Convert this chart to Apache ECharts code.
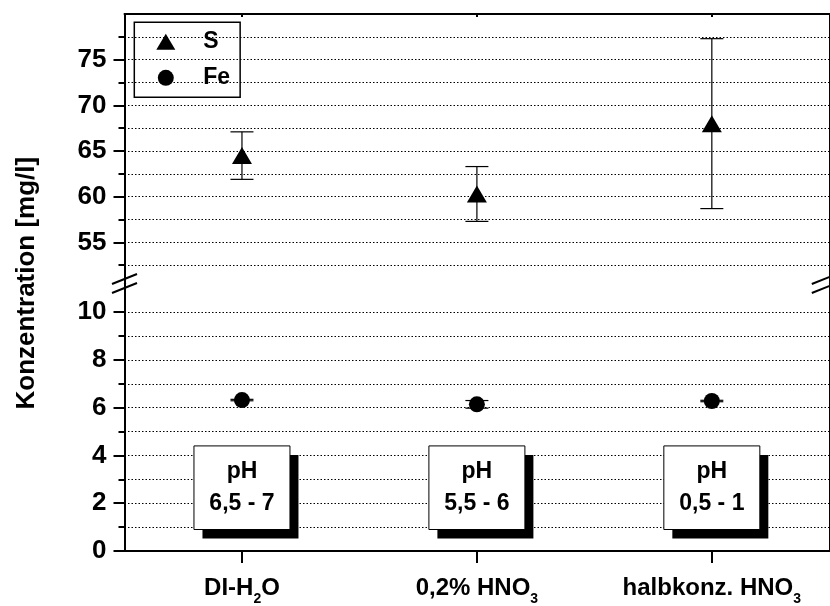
<!DOCTYPE html>
<html>
<head>
<meta charset="utf-8">
<script src="https://cdn.jsdelivr.net/npm/echarts@6/dist/echarts.min.js"></script>
<style>
  html, body { margin: 0; padding: 0; background: #fff; }
  #chart { width: 830px; height: 606px; }
</style>
</head>
<body>
<div id="chart"></div>
<script>
// Leaching media on the x axis
const categories = ['DI-H2O', '0,2% HNO3', 'halbkonz. HNO3'];
// Sulfur concentration (mean and standard deviation), mg/l
const sulfurMean = [64.5, 60.3, 68.0];
const sulfurErr = [2.6, 3.0, 9.3];
// Iron concentration (mean and standard deviation), mg/l
const ironMean = [6.32, 6.14, 6.28];
const ironErr = [0.03, 0.16, 0.03];
// pH range of each medium
const phRanges = ['6,5 - 7', '5,5 - 6', '0,5 - 1'];
// Tick positions of the broken value axis
const upperMajorTicks = [55, 60, 65, 70, 75];
const upperMinorTicks = [52.5, 57.5, 62.5, 67.5, 72.5, 77.5];
const lowerMajorTicks = [0, 2, 4, 6, 8, 10];
const lowerMinorTicks = [1, 3, 5, 7, 9];

const FONT = '"Liberation Sans", Arial, sans-serif';
const LEFT = 124.5, RIGHT_X = 829.3, TOP = 14, BREAK_Y = 283.5, BOTTOM_Y = 552.3;
const H = 606;

const chart = echarts.init(document.getElementById('chart'), null, { renderer: 'canvas' });

const dotted = { show: true, lineStyle: { color: '#000', width: 1, type: [1.5, 2] } };
const axisLine = { show: true, onZero: false, lineStyle: { color: '#000', width: 2 } };

function valueAxis(gridIndex, min, max, opts) {
  return Object.assign({
    type: 'value', gridIndex, min, max, position: 'left',
    axisLine: axisLine,
    axisTick: { show: false },
    axisLabel: { show: false },
    splitLine: { show: false }
  }, opts);
}

function errorBarRenderer(params, api) {
  const xi = api.value(0);
  const lo = api.coord([xi, api.value(1)]);
  const hi = api.coord([xi, api.value(2)]);
  const cap = 11.5;
  const st = { stroke: '#000', lineWidth: 1.2 };
  return {
    type: 'group',
    children: [
      { type: 'line', shape: { x1: lo[0], y1: lo[1], x2: hi[0], y2: hi[1] }, style: st },
      { type: 'line', shape: { x1: hi[0] - cap, y1: hi[1], x2: hi[0] + cap, y2: hi[1] }, style: st },
      { type: 'line', shape: { x1: lo[0] - cap, y1: lo[1], x2: lo[0] + cap, y2: lo[1] }, style: st }
    ]
  };
}

function phBoxRenderer(params, api) {
  const xi = api.value(0);
  const x = api.coord([xi, 0])[0];
  const top = api.coord([xi, 4.4])[1];
  const bot = api.coord([xi, 0.9])[1];
  const w = 96;
  return {
    type: 'group',
    children: [
      { type: 'rect', shape: { x: x - w / 2 + 8.5, y: top + 9, width: w, height: bot - top }, style: { fill: '#000' } },
      { type: 'rect', shape: { x: x - w / 2, y: top, width: w, height: bot - top }, style: { fill: '#fff', stroke: '#000', lineWidth: 1 } },
      { type: 'text', style: { text: 'pH\n' + phRanges[params.dataIndex], x: x, y: (top + bot) / 2,
        align: 'center', verticalAlign: 'middle', font: 'bold 23px ' + FONT, lineHeight: 32, fill: '#000' } }
    ]
  };
}

function slash(cx, cy) {
  return { type: 'line', shape: { x1: cx - 12.5, y1: cy + 5, x2: cx + 12.5, y2: cy - 5 },
    style: { stroke: '#000', lineWidth: 2 }, z: 100 };
}

const option = {
  animation: false,
  backgroundColor: '#fff',
  textStyle: { fontFamily: FONT },
  grid: [
    { left: LEFT, right: 830 - RIGHT_X, top: TOP, height: BREAK_Y - TOP },
    { left: LEFT, right: 830 - RIGHT_X, top: BREAK_Y, bottom: H - BOTTOM_Y }
  ],
  legend: {
    data: ['S', 'Fe'],
    orient: 'vertical',
    left: 134.3, top: 22.3,
    padding: [8, 10, 8, 22],
    itemWidth: 19, itemHeight: 16, itemGap: 13,
    borderColor: '#000', borderWidth: 1.5,
    selectedMode: false,
    itemStyle: { opacity: 1, color: '#000' },
    textStyle: { fontSize: 23, fontWeight: 'bold', color: '#000', fontFamily: FONT, padding: [4, 0, 0, 23] }
  },
  xAxis: [
    { type: 'category', gridIndex: 0, data: categories, position: 'top',
      axisLine: axisLine,
      axisTick: { show: true, inside: true, length: 3, alignWithLabel: true, lineStyle: { color: '#000', width: 2 } },
      axisLabel: { show: false }, splitLine: { show: false } },
    { type: 'category', gridIndex: 1, data: categories, position: 'bottom',
      axisLine: axisLine,
      axisTick: { show: true, length: 12, alignWithLabel: true, lineStyle: { color: '#000', width: 2 } },
      axisLabel: {
        interval: 0, hideOverlap: false,
        margin: 25, color: '#000',
        formatter: v => v.replace(/([A-Z])(\d)/g, '$1{s|$2}'),
        fontSize: 24, fontWeight: 'bold', fontFamily: FONT,
        rich: { s: { fontSize: 14, fontWeight: 'bold', fontFamily: FONT, color: '#000', lineHeight: 14, padding: [22, 0, 0, 0] } }
      },
      splitLine: { show: false } }
  ],
  yAxis: [
    valueAxis(0, 50.5, 80, {
      axisTick: { show: true, customValues: upperMajorTicks, length: 11, lineStyle: { color: '#000', width: 2 } },
      axisLabel: { show: true, customValues: upperMajorTicks, margin: 18, fontSize: 26, fontWeight: 'bold', color: '#000', fontFamily: FONT },
      splitLine: dotted
    }),
    valueAxis(0, 50.5, 80, {
      axisTick: { show: true, customValues: upperMinorTicks, length: 6, lineStyle: { color: '#000', width: 2 } },
      splitLine: dotted
    }),
    valueAxis(0, 50.5, 80, { position: 'right' }),
    valueAxis(1, 0, 11.2, {
      axisTick: { show: true, customValues: lowerMajorTicks, length: 11, lineStyle: { color: '#000', width: 2 } },
      axisLabel: { show: true, customValues: lowerMajorTicks, margin: 18, fontSize: 26, fontWeight: 'bold', color: '#000', fontFamily: FONT },
      splitLine: dotted
    }),
    valueAxis(1, 0, 11.2, {
      axisTick: { show: true, customValues: lowerMinorTicks, length: 6, lineStyle: { color: '#000', width: 2 } },
      splitLine: dotted
    }),
    valueAxis(1, 0, 11.2, { position: 'right' })
  ],
  series: [
    { name: 'S-err', type: 'custom', xAxisIndex: 0, yAxisIndex: 0, z: 3,
      encode: { x: 0, y: [1, 2] }, renderItem: errorBarRenderer,
      data: sulfurMean.map((m, i) => [i, m - sulfurErr[i], m + sulfurErr[i]]) },
    { name: 'S', type: 'scatter', xAxisIndex: 0, yAxisIndex: 0, z: 4,
      symbol: 'triangle', symbolSize: [20, 17], itemStyle: { color: '#000', opacity: 1 },
      data: sulfurMean },
    { name: 'pH', type: 'custom', xAxisIndex: 1, yAxisIndex: 3, z: 2,
      encode: { x: 0, y: 1 }, renderItem: phBoxRenderer,
      data: phRanges.map((r, i) => [i, 0]) },
    { name: 'Fe-err', type: 'custom', xAxisIndex: 1, yAxisIndex: 3, z: 3,
      encode: { x: 0, y: [1, 2] }, renderItem: errorBarRenderer,
      data: ironMean.map((m, i) => [i, m - ironErr[i], m + ironErr[i]]) },
    { name: 'Fe', type: 'scatter', xAxisIndex: 1, yAxisIndex: 3, z: 4,
      symbol: 'circle', symbolSize: 16, itemStyle: { color: '#000', opacity: 1 },
      data: ironMean }
  ],
  graphic: [
    { type: 'text', x: 27, y: (TOP + BOTTOM_Y) / 2, rotation: Math.PI / 2,
      style: { text: 'Konzentration [mg/l]', font: 'bold 26px ' + FONT, fill: '#000', align: 'center', verticalAlign: 'middle' } },
    slash(LEFT, BREAK_Y - 4.5), slash(LEFT, BREAK_Y + 4.5),
    slash(RIGHT_X - 5, BREAK_Y - 4.5), slash(RIGHT_X - 5, BREAK_Y + 4.5)
  ]
};

chart.setOption(option);
</script>
</body>
</html>
